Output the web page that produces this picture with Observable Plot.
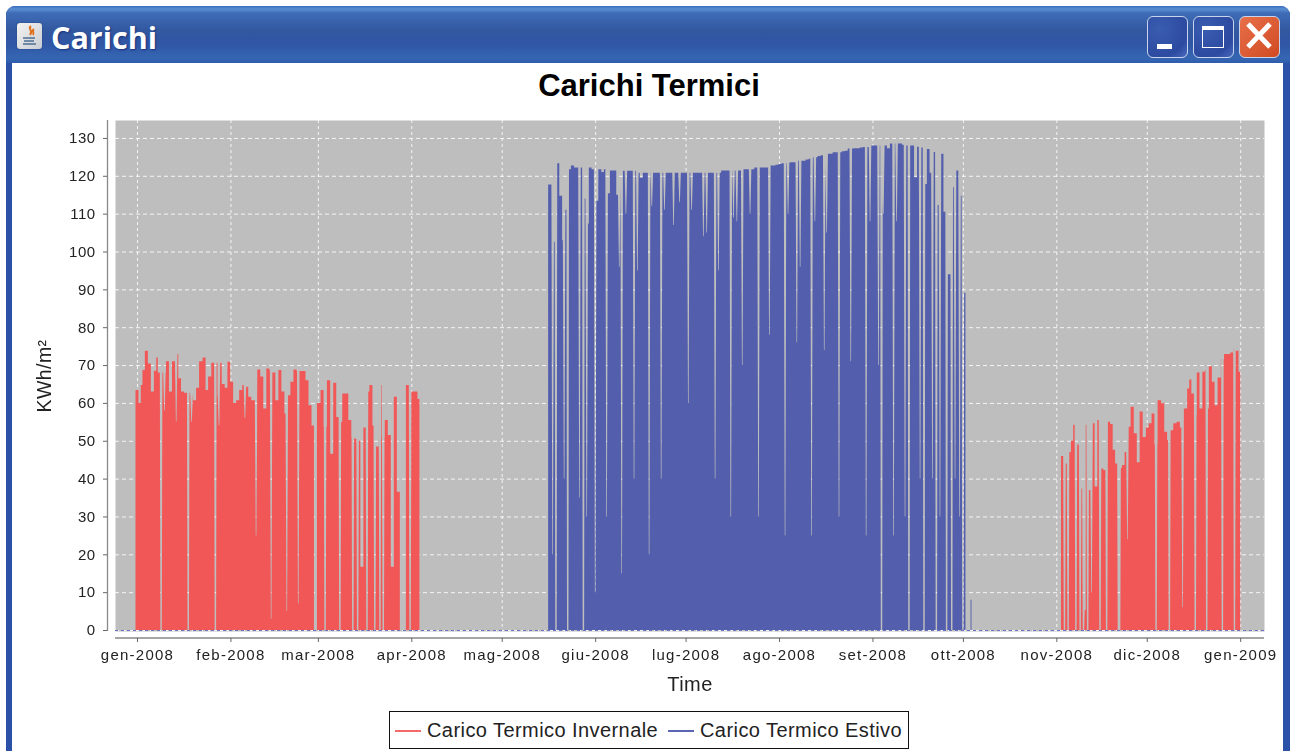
<!DOCTYPE html>
<html><head><meta charset="utf-8">
<script src="https://cdn.jsdelivr.net/npm/d3@7"></script>
<script src="https://cdn.jsdelivr.net/npm/@observablehq/plot@0.6"></script>
<style>
html,body{margin:0;padding:0;background:#fff;width:1290px;height:751px;overflow:hidden;font-family:"Liberation Sans",Arial,sans-serif}
.abs{position:absolute}
#win{left:6px;top:6px;width:1284px;height:745px;background:#2b50a8;border-radius:9px 9px 0 0}
#bar{left:6px;top:6px;width:1284px;height:57px;border-radius:9px 9px 0 0;background:linear-gradient(#3a6cc0 0,#5a8ed0 3px,#3f6cb8 7px,#32589f 24px,#3056a6 38px,#3566b2 52px,#2f5cae 57px)}
#content{left:12px;top:63px;width:1271px;height:688px;background:#fff}
#wt{left:51px;top:15px;color:#fff;font:700 30.5px "Open Sans",sans-serif;text-shadow:1px 1px 2px #16307a;line-height:44px}
.btn{top:16px;width:41px;height:42px;border:1.5px solid #c8d4ec;border-radius:6px;box-sizing:border-box;background:radial-gradient(circle at 30% 30%,#3a5db0,#2c4aa0 70%,#4a6cc0)}
#pc{left:0;top:64px}
#title{left:0;width:1298px;top:67px;text-align:center;font:bold 31px "Liberation Sans",Arial,sans-serif;color:#000;line-height:38px}
#legend{left:389px;top:711px;width:520px;height:38px;box-sizing:border-box;border:1.3px solid #111;background:#fff;font:20px "Liberation Sans",Arial,sans-serif;color:#222}
#legend span{position:absolute;top:7px;white-space:nowrap;letter-spacing:.43px}
#legend i{position:absolute;top:18px;width:26px;height:1.5px}
svg{filter:blur(.45px)}
g[aria-label="x-axis tick label"]{letter-spacing:1.25px}
</style></head><body>
<div id="win" class="abs"></div><div id="bar" class="abs"></div><div id="content" class="abs"></div>
<div class="abs" style="left:17px;top:23px;width:25px;height:26px;border-radius:3px;background:linear-gradient(135deg,#f4f4f0,#c8ccd4);box-shadow:0 0 1px #123">
 <svg width="25" height="26" viewBox="0 0 25 26" style="filter:none"><path d="M14 3c-4 3 3 4-1 9M17 6c-3 2 1 3-1 6" stroke="#e0701c" stroke-width="2" fill="none"/><path d="M6 15h12M7 18h10M6 21h13" stroke="#4d6f92" stroke-width="1.6"/></svg></div>
<div id="wt" class="abs">Carichi</div>
<div class="btn abs" style="left:1147px"><div class="abs" style="left:9px;top:27px;width:15px;height:5px;background:#fff"></div></div>
<div class="btn abs" style="left:1193px"><div class="abs" style="left:8px;top:9px;width:22px;height:22px;box-sizing:border-box;border:1.5px solid #fff;border-top-width:4px"></div></div>
<div class="btn abs" style="left:1239px;background:linear-gradient(135deg,#e8704a,#d04a22)"><svg width="38" height="38" viewBox="0 0 38 38" style="filter:none"><path d="M8 7L30 30M30 7L8 30" stroke="#fff" stroke-width="5"/></svg></div>
<div id="title" class="abs">Carichi Termici</div>
<div id="pc" class="abs"></div>
<div id="legend" class="abs"><i style="left:5px;background:#f26a6a"></i><span style="left:37px">Carico Termico Invernale</span><i style="left:278px;background:#5a66b4"></i><span style="left:310px">Carico Termico Estivo</span></div>
<script>
// Day-of-year positions (days since 1 Jan 2008) and peak loads.
const monthLabels = ["gen-2008","feb-2008","mar-2008","apr-2008","mag-2008","giu-2008","lug-2008","ago-2008","set-2008","ott-2008","nov-2008","dic-2008","gen-2009"];
const monthDays = [0,31,60,91,121,152,182,213,244,274,305,335,366];
const yTicks = [0,10,20,30,40,50,60,70,80,90,100,110,120,130];

const winterEarlyDays = [0,1,1.5,2.1,3.1,4.1,5.1,6.1,6.7,7.1,8.1,9.1,10.1,11.1,12.1,13.3,14.1,15.1,16.1,17.1,18.1,19.1,20.1,21.1,22.4,23.1,24.1,25.2,26.2,27.2,27.6,28.6,29.6,30.4,31.4,32.4,33.4,34.4,35.4,36.4,37.4,38.4,39.3,40.4,41.4,42.4,43.4,44.4,45.4,46.4,47.4,48.4,49.4,50.4,51.4,52.4,53.4,54.4,55.4,56.4,57.4,58.4,59,60.4,61.4,62.4,63.6,64.6,65.6,66.6,67.6,68.6,69.6,70.6,71.6,72.6,73.6,74.6,75.6,76.6,77.6,78.6,79.7,80.7,81.7,82.7,83.7,84.7,85.7,86.7,87.7,88.7,89.7,90.7,91.7,92.7,93.4];
const winterEarlyPeaks = [63.4,60,64.7,68.7,73.8,70.4,63,68.5,72,68,68,68,71,63,71,73,66.5,63,62.7,62.7,62,60.7,64,71,72,63.4,67,70.6,70.6,62,70.6,65,64,70.9,65.6,60,60.7,63.4,64.7,64.3,61.6,60.7,60.7,68.8,67,58.5,69.1,68.7,68,60.7,68.7,63,57.2,62,65.6,68.8,68.5,68.4,68.4,66,59.4,54,0,60,63.4,53.7,66,46.6,65.3,56.3,55,62.5,62.5,55.5,51,50.5,50,16.7,53.5,63,64.7,54,48.5,64.7,51,55.5,51.5,16.7,61.6,36.5,0,0,64.7,63,63,63,61];
const winterEarlyNotchDays = [8,9.1,13,17,18.1,26,27.2,35.8,39.5,44.5,49.7,53.5,62.4,67.3,71.6,73.2,76.3,78.9,80.6,81.7,90.6];
const winterEarlyNotchLevels = [0,58,55,0,55,0,54,56,25,3,5,7,0,0,0,0,0,0,0,0,0];

const winterLateDays = [307.1,308.2,309.5,310.2,311,312.2,313.4,314.5,315,316.1,317.2,318.2,319,320,321.2,322.3,323.4,324,325,326.4,327.2,328.1,329.1,330.2,331.2,332.2,333.1,334.2,335.2,336.1,337.1,338,339.2,340.3,341.3,342.2,343.2,344.4,345.4,346.6,348,348.8,349.4,350.2,351.1,352.1,352.9,354,354.6,355.1,356.1,357.1,357.9,359.1,360.1,361.2,362.2,363.2,364,365.1,365.8];
const winterLatePeaks = [46,44,47,50,54.2,49,37.4,5.3,54.2,37,54.6,37.9,55.5,42.7,42.3,55,54.4,47.6,44,42.9,43.6,47,53.7,59,52,44.3,57.7,51,53.5,54.6,57.2,49,60.7,59.9,52.4,50.2,52.8,54.6,55,53.5,58.5,63.8,66.2,62.5,56.8,68,58.5,68.2,68.7,58.5,69.7,65.6,59.4,66.7,71.6,72.9,72.9,73.3,74.3,73.8,68.2];
const winterLateNotchDays = [307.7,308.9,311.5,312.9,314,315.4,316.7,319.5,321.7,325.6,326,328.6,338.1,342.5,346.9,351.1,354.9,360.1,364.1];
const winterLateNotchLevels = [0,0,0,0,0,0,10,0,0,0,0,24,0,0,6,0,0,0,0];

const summerEarlyDays = [137,138.2,139.5,140.7,141.4,142.3,143.4,144.5,145.5,146.5,147.5,148.5,149.5,150.3,151.3,152.5,153.6,154.5,155.3,156.4,157.4,158.6,159.4];
const summerEarlyPeaks = [117.7,102.6,123.3,114.7,103,111,121.7,122.7,122.2,122.2,122.2,114,107.4,122.2,121.7,113.4,121.7,121,121.7,115.4,121.4,121.4,115];
const summerMidFirstDay = 160.3;
const summerMidPeaks = [121.3,121.3,121.3,121.3,121.3,121.3,120.8,119.5,120.8,120.8,120.8,120.8,120.8,120.8,120.8,120.8,120.8,120.8,120.8,120.8,120.8,120.8,120.8,120.8,120.8,120.8,120.8,120.8,120.8,120.8,120.8,120.8,120.8,120.8,121.4,121.4,121.4,121.4,121.4,121.4,121.4,121.7,121.7,121.7,121.7,122.2,122.2,122.2,122.2,122.2,122.7,122.7,122.9,123.1,123.3,123.3,123.5,123.6,123.6,124,124,124,124.3,124.5,124.9,124.9,125.2,125.4,125.4,125.8,125.8,126.2,126.2,126.2,126.5,126.6,127.2,127.2,127.3,127.3,127.5,127.6,127.6,128,128,128,128,128,128,127.3,128.5,128.5,128.5,128.5,128.2,128,128,128,119.6,127.7];
const summerLateDays = [260.3,261.6,262.5,263.4,264.4,265.4,266.8,268.3,269.4,270.6,272,273.4,274.5,275.2,276.4,276.7,277];
const summerLatePeaks = [127.5,117.8,127.1,120.8,126.3,112.3,125.8,110.5,94,117,121.4,114.7,89.1,0,0,8,0];
const summerNotchDays = [137.9,139,141.7,142.9,146.8,148.1,149.2,152,155.8,160.8,164.9,169.9,173.9,182.9,191.8,197,200.8,206.2,160,166,192.9,162.2,170.8,175,178,180,184,187.9,189,197.9,199,203.4,209.8,215,218.9,220,223.8,228,232.9,236.8,241.9,246,247,251,254.8,256.1,259.8,261.1,263.9,265.2,266.4,268.6,270.3,271.4,272.9,274,216,224.9,228.8,243.2,247.6,252];
const summerNotchLevels = [20,0,40,0,35,0,30,10,30,15,40,20,40,60,40,30,70,30,96,95,95,110,112,111,107,113,111,104,105,109,108,110,78,25,76,96,25,74,30,71,25,70,0,25,30,0,40,0,40,0,30,0,0,40,30,0,110,108,105,108,110,108];

const startMs = Date.UTC(2008,0,1);
const toDate = d => new Date(startMs + d*864e5);

// Turns bars read at given days, plus the stripes read between them, into an outline.
function outline(days, peaks, notchDays, notchLevels, endPad){
  const edges = days.slice(0,-1).map((d,i)=>(d+days[i+1])/2);
  const lo = days[0]-(days[1]-days[0])/2, hi = days[days.length-1]+endPad;
  const peakAt = t => { let i = d3.bisectRight(edges,t); return peaks[i]; };
  const wTop=.42;
  const wBotOf = l => l===0 ? .24 : .1;
  const valueAt = t => {
    const p = peakAt(t); let v = p;
    notchDays.forEach((n,k)=>{
      const a=Math.abs(t-n), l=notchLevels[k], wBot=wBotOf(l);
      if(a<wTop && l<p){ const f=a<=wBot?0:(a-wBot)/(wTop-wBot); v=Math.min(v,l+(p-l)*f); }
    });
    return v;
  };
  const ts=[lo,hi];
  edges.forEach(e=>ts.push(e-1e-3,e+1e-3));
  notchDays.forEach((n,k)=>{const wBot=wBotOf(notchLevels[k]); ts.push(n-wTop,n-wBot,n+wBot,n+wTop);});
  const kept=ts.filter(t=>t>=lo&&t<=hi).sort(d3.ascending);
  const pts=kept.map(t=>({date:toDate(t),value:valueAt(t)}));
  pts.unshift({date:toDate(lo),value:0}); pts.push({date:toDate(hi),value:0});
  return pts;
}
const summerDays = summerEarlyDays.concat(summerMidPeaks.map((_,i)=>summerMidFirstDay+i), summerLateDays);
const summerPeaks = summerEarlyPeaks.concat(summerMidPeaks, summerLatePeaks);
const red="#f25757", blue="#535fad";
const fnt='"Liberation Sans",Arial,sans-serif';
const tickDates = monthDays.map(toDate);
const chart = Plot.plot({
  width:1290,height:687,marginLeft:115,marginRight:26,marginTop:56,marginBottom:120,
  style:{fontFamily:fnt,background:"transparent",color:"#222",letterSpacing:"0.45px",overflow:"visible"},
  x:{type:"utc",domain:[toDate(-7.3),toDate(373.9)]},
  y:{domain:[-0.26,134.74]},
  marks:[
    Plot.frame({fill:"#bebebe",stroke:"none"}),
    Plot.gridX(tickDates,{stroke:"#fff",strokeOpacity:.85,strokeDasharray:"3,3"}),
    Plot.gridY(yTicks,{stroke:"#fff",strokeOpacity:.85,strokeDasharray:"4,3"}),
    Plot.areaY(outline(winterEarlyDays,winterEarlyPeaks,winterEarlyNotchDays,winterEarlyNotchLevels,.3),{x:"date",y:"value",fill:red}),
    Plot.areaY(outline(winterLateDays,winterLatePeaks,winterLateNotchDays,winterLateNotchLevels,.2),{x:"date",y:"value",fill:red}),
    Plot.areaY(outline(summerDays,summerPeaks,summerNotchDays,summerNotchLevels,.1),{x:"date",y:"value",fill:blue}),
    Plot.ruleY([0],{stroke:"#6a72c0",strokeWidth:1,strokeDasharray:"3,3"}),
    Plot.ruleY([0],{stroke:"#888",strokeWidth:1.3,dy:7.5}),
    Plot.ruleX([toDate(-7.3)],{stroke:"#888",strokeWidth:1.3,dx:-8}),
    Plot.axisX({ticks:tickDates,tickFormat:(d,i)=>monthLabels[i],tickSize:4,dy:7,tickPadding:7,fontSize:15,stroke:"#666",label:null}),
    Plot.axisY({ticks:yTicks,tickSize:4,dx:-8,tickPadding:8,fontSize:15,stroke:"#666",label:null}),
    Plot.text(["Time"],{frameAnchor:"bottom",dy:59,fontSize:20}),
    Plot.text(["KWh/m²"],{frameAnchor:"left",textAnchor:"middle",rotate:-90,dx:-71,fontSize:19.5})
  ]
});
document.getElementById("pc").appendChild(chart);
</script>
</body></html>
